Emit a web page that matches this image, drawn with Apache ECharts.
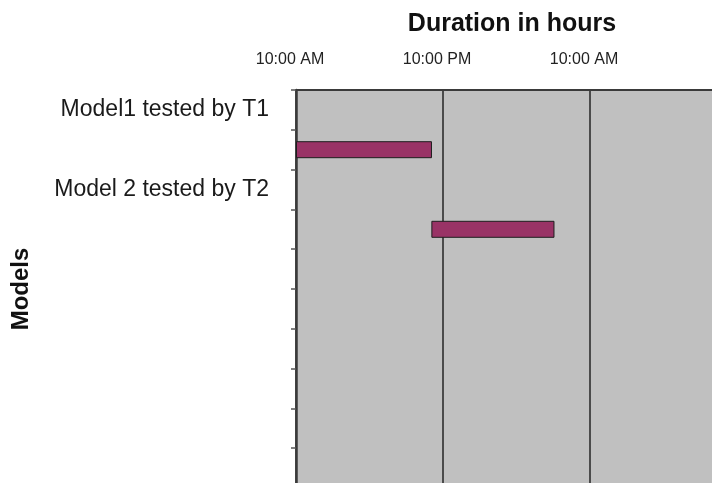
<!DOCTYPE html>
<html>
<head>
<meta charset="utf-8">
<title>Duration in hours</title>
<script src="https://cdn.jsdelivr.net/npm/echarts@6/dist/echarts.min.js"></script>
<style>
  html, body { margin: 0; padding: 0; background: #ffffff; }
  #chart { width: 712px; height: 483px; }
</style>
</head>
<body>
<div id="chart"></div>
<script>
// Rows of the schedule (top to bottom); labelled rows are headers, bars sit on the rows below them
const rows = ["Model1 tested by T1", "", "Model 2 tested by T2", "", "", "", "", "", "", ""];
// Test runs: row index, start and end in hours after 10:00 AM
const runRow = [1, 3];
const runStart = [0, 11.05];
const runEnd = [11.1, 21.1];
// Time axis: 0 to 36 hours after 10:00 AM, labelled every 12 hours
const axisMaxHours = 36;
const tickHours = [0, 12, 24];
const tickLabels = ["10:00 AM", "10:00 PM", "10:00 AM"];

const offsetData = rows.map(() => null);
const durationData = rows.map(() => null);
runRow.forEach((r, i) => {
  offsetData[r] = runStart[i];
  durationData[r] = runEnd[i] - runStart[i];
});

const chart = echarts.init(document.getElementById('chart'), null, { renderer: 'canvas' });
const font = 'Liberation Sans, Arial, Helvetica, sans-serif';

chart.setOption({
  animation: false,
  backgroundColor: '#ffffff',
  title: {
    text: 'Duration in hours',
    left: 507,
    top: 7,
    textAlign: 'center',
    textStyle: { fontFamily: font, fontWeight: 'bold', fontSize: 25, color: '#111' }
  },
  grid: {
    left: 296,
    top: 90,
    width: 441,
    height: 398,
    containLabel: false,
    outerBoundsMode: 'none',
    show: true,
    backgroundColor: '#c0c0c0',
    borderWidth: 0
  },
  xAxis: {
    type: 'value',
    position: 'top',
    min: 0,
    max: axisMaxHours,
    interval: 12,
    axisLine: { show: true, lineStyle: { color: '#3a3a3a', width: 2 } },
    axisTick: { show: false },
    axisLabel: {
      margin: 22,
      padding: [0, 12, 0, 0],
      fontFamily: font,
      fontSize: 16,
      color: '#222',
      formatter: v => {
        const i = tickHours.indexOf(v);
        return i >= 0 ? tickLabels[i] : '';
      }
    },
    splitLine: { show: true, lineStyle: { color: '#2e2e2e', width: 1.6 } }
  },
  yAxis: {
    type: 'category',
    data: rows,
    inverse: true,
    axisLine: { show: true, lineStyle: { color: '#3a3a3a', width: 2.5 } },
    axisTick: { show: true, inside: false, length: 5, lineStyle: { color: '#555', width: 1.5 } },
    axisLabel: {
      margin: 27,
      fontFamily: font,
      fontSize: 23,
      color: '#1a1a1a'
    },
    name: 'Models',
    nameLocation: 'middle',
    nameGap: 263,
    nameRotate: 90,
    nameTextStyle: { fontFamily: font, fontWeight: 'bold', fontSize: 24, color: '#111' },
    splitLine: { show: false }
  },
  series: [
    {
      name: 'offset',
      type: 'bar',
      stack: 'run',
      data: offsetData,
      barWidth: 17,
      itemStyle: { color: 'transparent' },
      silent: true
    },
    {
      name: 'duration',
      type: 'bar',
      stack: 'run',
      data: durationData,
      barWidth: 17,
      itemStyle: { color: '#993366', borderColor: '#1e1e1e', borderWidth: 1 }
    }
  ]
});
</script>
</body>
</html>
